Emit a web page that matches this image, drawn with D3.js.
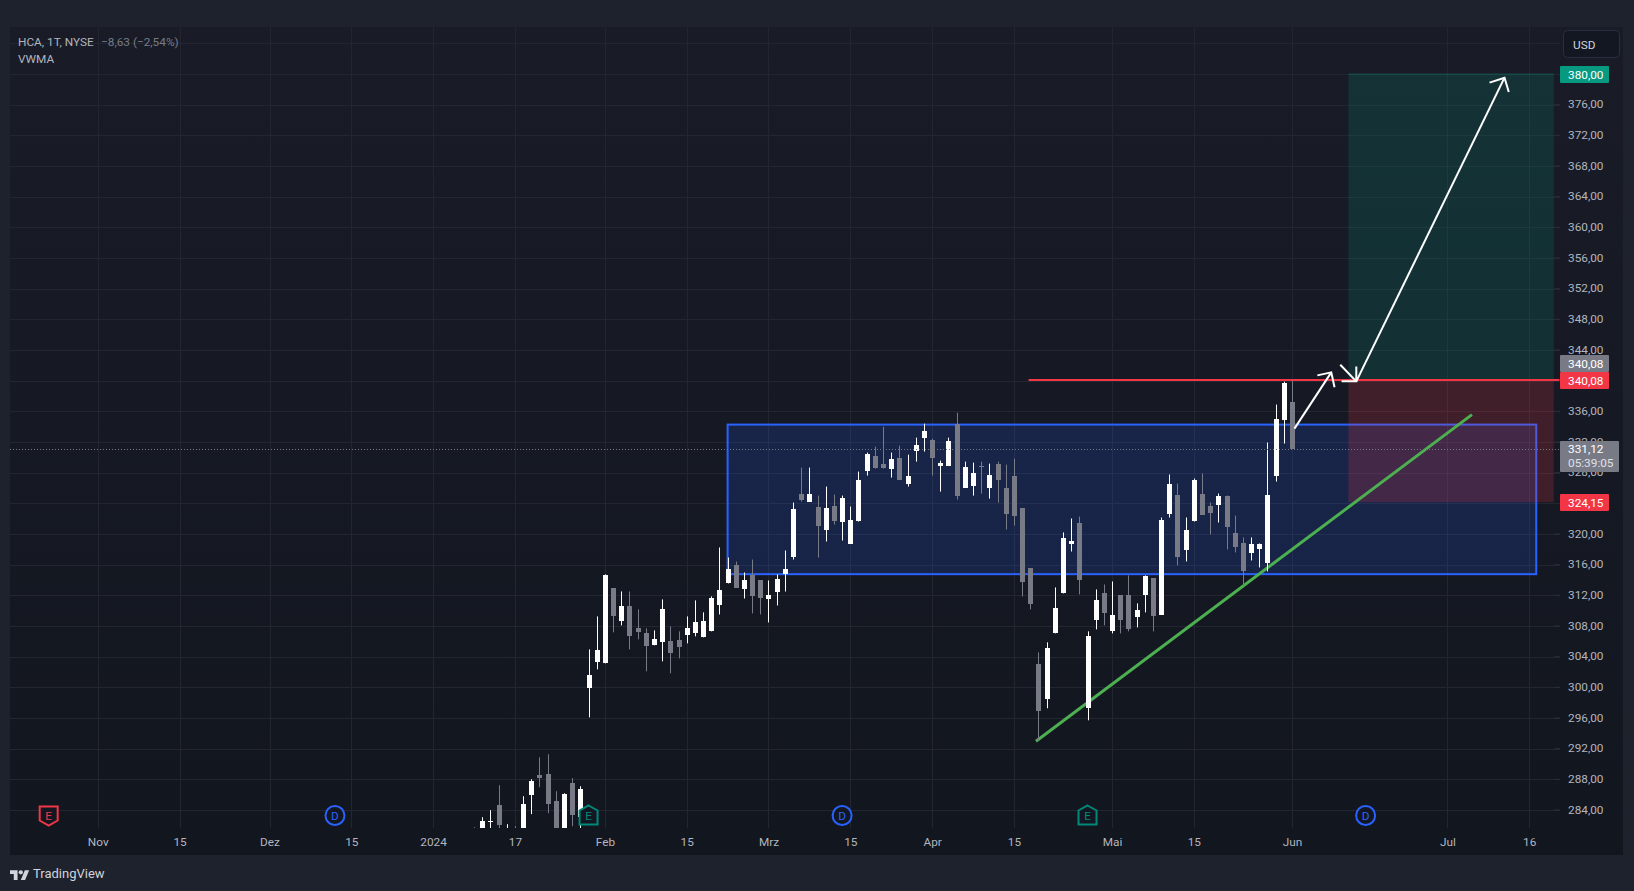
<!DOCTYPE html>
<html>
<head>
<meta charset="utf-8">
<title>HCA</title>
<script src="https://cdn.jsdelivr.net/npm/d3@7"></script>
<style>
  html, body { margin: 0; padding: 0; background: #1e222d; overflow: hidden; }
  text { font-family: Roboto, "Open Sans", sans-serif; font-size: 11.8px; }
  .domain { display: none; }
</style>
</head>
<body>
<div id="chart"></div>
<script>
// bar numbers count trading days from 1 Feb 2024 (bar 0), first candle is bar -16
const firstBar = -16;

const opens = [281.3, 281.5, 282.41, 284.63, 280.5, 281.2, 281.5, 285.93, 288.54, 288.67, 285.15, 281.5, 287.5, 283.11, 299.87, 303.26,
  303.13, 312.9, 308.6, 310.56, 307.69, 307.04, 305.48, 305.87, 306.0, 306.13, 306.78, 307.04, 306.52, 307.3, 310.81, 313.55, 316.02, 312.76, 314.59, 313.94, 311.46, 312.37, 314.85, 317.06,
  325.27, 324.23, 323.58, 320.58, 323.71, 321.62, 318.76, 321.76, 328.27, 330.22, 329.18, 328.53, 329.96, 326.58, 330.88, 332.57, 332.31, 328.92, 328.92, 334.39, 326.06, 326.32, 328.92, 326.06, 329.18, 326.06, 327.62,
  323.33, 315.51, 303.0, 298.44, 307.04, 312.25, 318.64, 321.37, 297.27, 308.73, 312.25, 307.3, 311.99, 311.99, 309.12, 311.99, 314.21, 309.52, 322.68, 325.15, 317.85, 321.63, 325.28, 323.59, 323.85, 325.02, 320.07, 318.77, 317.46, 317.98, 316.29, 327.63, 334.92, 337.27];

const highs = [281.76, 283.06, 283.98, 287.23, 282.15, 281.89, 285.8, 288.02, 290.88, 291.27, 286.45, 286.19, 288.15, 287.1, 304.95, 309.25,
  314.73, 312.9, 312.51, 312.51, 310.17, 307.69, 307.43, 311.47, 307.95, 307.3, 309.25, 311.34, 309.78, 311.86, 318.24, 316.93, 316.41, 314.98, 316.67, 313.94, 313.94, 314.72, 317.85, 324.1,
  328.66, 328.66, 325.01, 326.19, 325.14, 325.01, 323.58, 328.14, 330.62, 331.4, 334.0, 330.62, 331.53, 330.35, 332.57, 334.39, 332.44, 329.57, 332.57, 335.83, 329.44, 329.31, 329.44, 329.18, 329.44, 329.05, 329.83,
  323.33, 315.51, 304.56, 305.87, 313.03, 320.2, 322.02, 322.28, 307.3, 312.77, 313.42, 313.81, 311.99, 314.6, 310.95, 314.6, 314.21, 322.15, 327.76, 326.58, 322.15, 327.24, 327.89, 324.11, 325.28, 325.02, 322.41, 319.55, 319.55, 318.77, 331.93, 336.88, 339.87, 340.0];

const lows = [280, 281, 281.2, 281, 280, 279.5, 281, 283.46, 286.97, 283.59, 281, 281, 281.89, 281.5, 296.09, 302.35,
  303.13, 307.17, 308.08, 304.95, 306.26, 302.09, 305.48, 303.39, 301.83, 303.78, 305.74, 306.65, 306.52, 307.3, 309.51, 313.55, 313.03, 311.59, 309.64, 309.51, 308.47, 310.68, 312.5, 316.67,
  324.23, 324.23, 316.93, 319.02, 321.23, 319.15, 318.76, 321.62, 327.62, 328.53, 328.53, 327.36, 327.1, 326.19, 329.44, 330.75, 327.62, 325.53, 328.92, 324.49, 326.06, 325.01, 325.27, 324.62, 324.1, 320.58, 321.1,
  311.86, 310.17, 293.1, 297.27, 307.04, 312.25, 317.72, 312.12, 295.7, 307.56, 308.08, 307.04, 307.04, 307.3, 307.82, 309.78, 307.3, 309.52, 322.15, 315.9, 316.42, 321.63, 322.54, 319.94, 321.5, 317.98, 317.59, 313.29, 316.55, 315.64, 315.12, 326.84, 331.8, 331.12];

const closes = [280.5, 282.55, 282.55, 282.02, 281.5, 280.2, 284.76, 287.76, 288.15, 284.76, 281.5, 286.06, 283.33, 286.71, 301.57, 304.82,
  314.6, 309.25, 310.56, 306.65, 307.17, 305.35, 306.26, 310.17, 304.43, 305.22, 307.69, 308.47, 308.6, 311.6, 312.76, 315.37, 313.03, 313.94, 311.85, 311.59, 311.98, 314.07, 315.5, 323.32,
  324.49, 325.27, 321.1, 323.45, 321.76, 324.75, 321.89, 327.1, 330.48, 328.66, 328.66, 329.83, 327.1, 327.62, 331.66, 333.48, 329.96, 329.31, 332.18, 325.01, 328.79, 328.01, 328.79, 327.75, 327.1, 322.67, 322.41,
  313.69, 310.82, 296.88, 305.09, 310.3, 319.42, 319.03, 313.95, 306.65, 311.34, 309.65, 309.39, 308.73, 307.56, 310.04, 314.47, 309.26, 321.89, 326.58, 317.07, 320.46, 326.98, 322.54, 322.68, 325.02, 320.98, 318.25, 315.12, 318.64, 318.64, 325.15, 335.05, 339.74, 331.12];

const priceTicks = [376, 372, 368, 364, 360, 356, 352, 348, 344, 336, 332, 328, 320, 316, 312, 308, 304, 300, 296, 292, 288, 284];
const gridPrices = [384, 380, 376, 372, 368, 364, 360, 356, 352, 348, 344, 340, 336, 332, 328, 324, 320, 316, 312, 308, 304, 300, 296, 292, 288, 284];

const timeBars = [-62, -52, -41, -31, -21, -11, 0, 10, 20, 30, 40, 50, 62, 72, 84, 103, 113];
const timeNames = ["Nov", "15", "Dez", "15", "2024", "17", "Feb", "15", "Mrz", "15", "Apr", "15", "Mai", "15", "Jun", "Jul", "16"];

const eventBars = [-68, -33, -2, 29, 59, 93];
const eventKinds = ["Eloss", "D", "Ewin", "D", "Ewin", "D"];

// drawings, in [bar, price]
const rangeBox = [[15, 334.27], [113.86, 314.76]];
const longBars = [90.9, 116];
const longPrices = { target: 380, entry: 340.08, stop: 324.15 };
const trendLine = [[52.7, 292.96], [106, 335.57]];
const levelLine = [[51.8, 340.08], [116.7, 340.08]];
const arrows = [
  { line: [[84.3, 333.75], [88.8, 341.08]], head: [[87.1, 340.69], [88.8, 341.08], [89.2, 339.13]] },
  { line: [[89.9, 342.08], [91.86, 339.91]], head: [[90.06, 339.91], [91.86, 339.91], [91.86, 341.86]] },
  { line: [[91.86, 339.91], [109.98, 379.52]], head: [[108.15, 378.87], [109.98, 379.52], [110.5, 377.65]] }
];

const lastPrice = 331.12;
const fmt = (v) => v.toFixed(2).replace(".", ",");

const svgWidth = 1634;
const svgHeight = 891;
const panel = { left: 10, top: 27, right: 1623, bottom: 855 };
const plotRight = 1560;
const plotBottom = 828;

const svg = d3.select("#chart").append("svg")
  .attr("width", svgWidth)
  .attr("height", svgHeight)
  .style("display", "block");

const x = d3.scaleLinear().domain([0, 84]).range([604.9, 1292]);
const y = d3.scaleLinear().domain([380, 284]).range([74, 810]);
const line = d3.line().x((d) => x(d[0])).y((d) => y(d[1]));

const defs = svg.append("defs");
const grad = defs.append("linearGradient").attr("id", "bg")
  .attr("x1", 0).attr("x2", 0).attr("y1", 0).attr("y2", 1);
grad.append("stop").attr("offset", "0%").attr("stop-color", "#191c27");
grad.append("stop").attr("offset", "100%").attr("stop-color", "#12161f");
defs.append("clipPath").attr("id", "plot").append("rect")
  .attr("x", panel.left).attr("y", panel.top)
  .attr("width", plotRight - panel.left).attr("height", plotBottom - panel.top);

svg.append("rect")
  .attr("width", svgWidth).attr("height", svgHeight)
  .attr("fill", "#1e222d");
svg.append("rect")
  .attr("x", panel.left).attr("y", panel.top)
  .attr("width", panel.right - panel.left).attr("height", panel.bottom - panel.top)
  .attr("fill", "url(#bg)");

// grid
const grid = svg.append("g").attr("stroke", "#232631").attr("stroke-width", 1);
grid.selectAll("line.h").data(gridPrices).enter().append("line")
  .attr("class", "h")
  .attr("x1", panel.left).attr("x2", plotRight)
  .attr("y1", (d) => Math.round(y(d)) + 0.5).attr("y2", (d) => Math.round(y(d)) + 0.5);
grid.selectAll("line.v").data(timeBars).enter().append("line")
  .attr("class", "v")
  .attr("y1", panel.top).attr("y2", plotBottom)
  .attr("x1", (d) => Math.round(x(d)) + 0.5).attr("x2", (d) => Math.round(x(d)) + 0.5);

const plot = svg.append("g").attr("clip-path", "url(#plot)");

// range box
plot.append("rect")
  .attr("x", x(rangeBox[0][0])).attr("y", y(rangeBox[0][1]))
  .attr("width", x(rangeBox[1][0]) - x(rangeBox[0][0]))
  .attr("height", y(rangeBox[1][1]) - y(rangeBox[0][1]))
  .attr("fill", "#2962ff").attr("fill-opacity", 0.17)
  .attr("stroke", "#2962ff").attr("stroke-width", 2);

// long position
plot.append("rect")
  .attr("x", x(longBars[0])).attr("y", y(longPrices.target))
  .attr("width", x(longBars[1]) - x(longBars[0]))
  .attr("height", y(longPrices.entry) - y(longPrices.target))
  .attr("fill", "#089981").attr("fill-opacity", 0.18);
plot.append("line")
  .attr("x1", x(longBars[0])).attr("x2", x(longBars[1]))
  .attr("y1", y(longPrices.target)).attr("y2", y(longPrices.target))
  .attr("stroke", "#089981").attr("stroke-opacity", 0.35);
plot.append("rect")
  .attr("x", x(longBars[0])).attr("y", y(longPrices.entry))
  .attr("width", x(longBars[1]) - x(longBars[0]))
  .attr("height", y(longPrices.stop) - y(longPrices.entry))
  .attr("fill", "#f23645").attr("fill-opacity", 0.2);

plot.append("path").attr("d", line(trendLine))
  .attr("fill", "none").attr("stroke", "#4caf50").attr("stroke-width", 3);
plot.append("path").attr("d", line(levelLine))
  .attr("fill", "none").attr("stroke", "#f23645").attr("stroke-width", 2);

// last price line
svg.append("line")
  .attr("x1", panel.left).attr("x2", plotRight)
  .attr("y1", Math.round(y(lastPrice)) + 0.5).attr("y2", Math.round(y(lastPrice)) + 0.5)
  .attr("stroke", "#787b86").attr("stroke-dasharray", "1 2");

// candles
const candles = opens.map((o, i) => ({
  bar: firstBar + i, open: o, high: highs[i], low: lows[i], close: closes[i]
}));
const color = (d) => (d.close >= d.open ? "#ffffff" : "#787b86");

const candle = plot.selectAll(".candle").data(candles).enter().append("g").attr("class", "candle");
candle.append("rect")
  .attr("x", (d) => Math.round(x(d.bar)))
  .attr("width", 1)
  .attr("y", (d) => y(d.high))
  .attr("height", (d) => y(d.low) - y(d.high))
  .attr("fill", color);
candle.append("rect")
  .attr("x", (d) => Math.round(x(d.bar)) - 2)
  .attr("width", 5)
  .attr("y", (d) => Math.round(y(Math.max(d.open, d.close))))
  .attr("height", (d) => Math.max(1, Math.round(Math.abs(y(d.open) - y(d.close)))))
  .attr("fill", color);

// arrows
const arrow = plot.selectAll(".arrow").data(arrows).enter().append("g").attr("class", "arrow")
  .attr("fill", "none").attr("stroke", "#ffffff").attr("stroke-width", 2);
arrow.append("path").attr("d", (d) => line(d.line));
arrow.append("path").attr("d", (d) => line(d.head));

// axes
const yAxis = svg.append("g")
  .attr("transform", `translate(1554,-0.5)`)
  .call(d3.axisRight(y).tickValues(priceTicks).tickFormat(fmt).tickSize(6).tickPadding(8));
yAxis.selectAll("line").attr("stroke", "#2a2e39");
yAxis.selectAll("text").attr("fill", "#b2b5be");

const xAxis = svg.append("g")
  .attr("transform", `translate(0,${plotBottom})`)
  .call(d3.axisBottom(x).tickValues(timeBars)
    .tickFormat((d) => timeNames[timeBars.indexOf(d)]).tickSize(0).tickPadding(10));
xAxis.selectAll("text").attr("fill", "#b2b5be");

// price labels
function priceLabel(price, fill, dy) {
  const g = svg.append("g").attr("transform", `translate(1560,${Math.round(y(price)) + 0.5 + (dy || 0)})`);
  g.append("rect").attr("y", -8.5).attr("width", 49).attr("height", 17).attr("fill", fill).attr("rx", 1);
  g.append("text").attr("x", 8).attr("dy", "0.35em").attr("fill", "#ffffff").text(fmt(price));
}
priceLabel(380, "#089981");
priceLabel(340.08, "#787b86", -17);
priceLabel(340.08, "#f23645");
priceLabel(324.15, "#f23645");

const last = svg.append("g").attr("transform", `translate(1560,${Math.round(y(lastPrice)) - 8})`);
last.append("rect").attr("width", 59).attr("height", 31).attr("fill", "#787b86").attr("rx", 1);
last.append("text").attr("x", 8).attr("y", 12).attr("fill", "#ffffff").text(fmt(lastPrice));
last.append("text").attr("x", 8).attr("y", 26).attr("fill", "#e0e1e6").text("05:39:05");

// USD button
svg.append("rect")
  .attr("x", 1563.5).attr("y", 30.5).attr("width", 56).attr("height", 27).attr("rx", 4)
  .attr("fill", "#131722").attr("stroke", "#2a2e45");
svg.append("text").attr("x", 1573).attr("y", 49).attr("fill", "#d1d4dc").text("USD");

// event markers
const shapes = {
  Eloss: "M-9,-9H9V5L0,10L-9,5Z",
  Ewin: "M0,-10L9,-5V9H-9V-5Z"
};
const eventColor = { Eloss: "#f23645", Ewin: "#00897b", D: "#2962ff" };
const marker = svg.selectAll(".event").data(eventBars).enter().append("g")
  .attr("class", "event")
  .attr("transform", (d) => `translate(${x(d)},815.5)`);
marker.each(function (d, i) {
  const kind = eventKinds[i];
  const g = d3.select(this);
  if (kind === "D") {
    g.append("circle").attr("r", 9.5)
      .attr("fill", "#131722").attr("stroke", eventColor[kind]).attr("stroke-width", 2);
  } else {
    g.append("path").attr("d", shapes[kind])
      .attr("fill", "#131722").attr("stroke", eventColor[kind]).attr("stroke-width", 2);
  }
  g.append("text").attr("text-anchor", "middle").attr("dy", "0.36em")
    .attr("fill", eventColor[kind]).text(kind[0]);
});

// legend
svg.append("text").attr("x", 18).attr("y", 46).attr("fill", "#b2b5be").text("HCA, 1T, NYSE");
svg.append("text").attr("x", 101).attr("y", 46).attr("fill", "#787b86").text("−8,63 (−2,54%)");
svg.append("text").attr("x", 18).attr("y", 63).attr("fill", "#b2b5be").text("VWMA");

// logo
const logo = svg.append("g").attr("transform", "translate(10,868) scale(0.54)").attr("fill", "#d1d4dc");
logo.append("path").attr("d", "M14 22H7V11H0V4h14v18zM28 22h-8l7.5-18h8L28 22z");
logo.append("circle").attr("cx", 20).attr("cy", 8).attr("r", 4);
svg.append("text").attr("x", 33).attr("y", 878).attr("fill", "#d1d4dc")
  .style("font-size", "13px").text("TradingView");
</script>
</body>
</html>
